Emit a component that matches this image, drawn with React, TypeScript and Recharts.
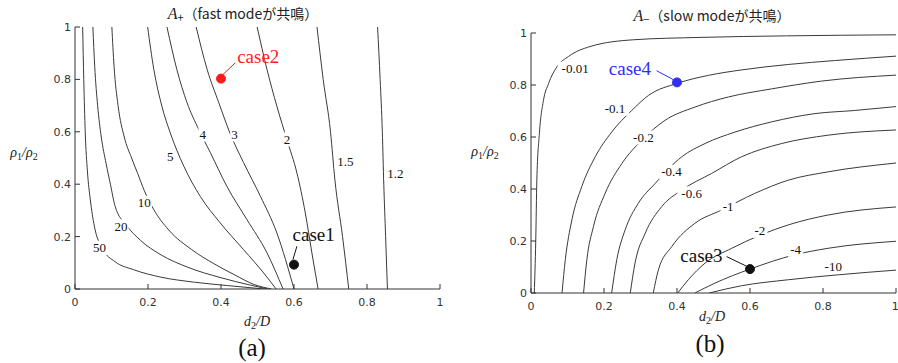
import React from "react";
import {
  ComposedChart,
  Line,
  XAxis,
  YAxis,
  ReferenceDot,
  ReferenceLine,
} from "recharts";

// axis ticks shared by both panels
const ticks = [0, 0.2, 0.4, 0.6, 0.8, 1];

// (a) A+ contours, [d2/D, rho1/rho2]
const a50 = [[0.021, 1], [0.024, 0.8], [0.028, 0.6], [0.034, 0.45], [0.042, 0.34], [0.053, 0.24], [0.075, 0.155], [0.11, 0.104], [0.16, 0.074], [0.236, 0.045], [0.327, 0.026], [0.418, 0.013], [0.518, 0]];
const a20 = [[0.049, 1], [0.054, 0.85], [0.062, 0.7], [0.072, 0.58], [0.085, 0.48], [0.097, 0.4], [0.11, 0.315], [0.14, 0.245], [0.18, 0.185], [0.236, 0.13], [0.309, 0.083], [0.4, 0.043], [0.48, 0.015], [0.528, 0]];
const a10 = [[0.101, 1], [0.107, 0.85], [0.118, 0.7], [0.135, 0.58], [0.155, 0.5], [0.172, 0.44], [0.19, 0.375], [0.215, 0.305], [0.257, 0.225], [0.32, 0.15], [0.38, 0.097], [0.436, 0.055], [0.491, 0.017], [0.538, 0]];
const a5 = [[0.199, 1], [0.216, 0.838], [0.238, 0.698], [0.261, 0.596], [0.298, 0.469], [0.343, 0.354], [0.398, 0.252], [0.462, 0.15], [0.517, 0.061], [0.551, 0]];
const a4 = [[0.252, 1], [0.279, 0.838], [0.307, 0.711], [0.339, 0.609], [0.371, 0.52], [0.416, 0.392], [0.471, 0.265], [0.526, 0.138], [0.57, 0]];
const a3 = [[0.332, 1], [0.362, 0.838], [0.394, 0.711], [0.426, 0.59], [0.462, 0.482], [0.508, 0.354], [0.553, 0.214], [0.6, 0]];
const a2 = [[0.499, 1], [0.526, 0.838], [0.553, 0.698], [0.581, 0.568], [0.608, 0.443], [0.631, 0.29], [0.649, 0.138], [0.666, 0]];
const a15 = [[0.663, 1], [0.68, 0.8], [0.7, 0.6], [0.712, 0.417], [0.733, 0.2], [0.75, 0]];
const a12 = [[0.829, 1], [0.836, 0.8], [0.842, 0.6], [0.846, 0.4], [0.851, 0.2], [0.856, 0]];

const aLabels: [number, number, string][] = [
  [0.067, 0.157, "50"], [0.126, 0.239, "20"], [0.19, 0.329, "10"], [0.261, 0.507, "5"],
  [0.35, 0.59, "4"], [0.437, 0.59, "3"], [0.581, 0.571, "2"], [0.741, 0.485, "1.5"], [0.878, 0.44, "1.2"],
];

// (b) A- contours
const bM001 = [[0.009, 0], [0.013, 0.2], [0.016, 0.434], [0.023, 0.614], [0.034, 0.74], [0.048, 0.805], [0.071, 0.87], [0.103, 0.91], [0.162, 0.948], [0.281, 0.974], [0.463, 0.983], [0.7, 0.989], [1, 0.993]];
const bM01 = [[0.085, 0], [0.094, 0.128], [0.112, 0.281], [0.139, 0.409], [0.176, 0.524], [0.221, 0.619], [0.276, 0.702], [0.322, 0.76], [0.402, 0.807], [0.486, 0.837], [0.577, 0.858], [0.705, 0.879], [0.832, 0.894], [1, 0.911]];
const bM02 = [[0.144, 0], [0.153, 0.128], [0.171, 0.255], [0.203, 0.383], [0.249, 0.498], [0.303, 0.587], [0.367, 0.664], [0.449, 0.715], [0.541, 0.754], [0.659, 0.785], [0.796, 0.815], [1, 0.838]];
const bM04 = [[0.221, 0], [0.235, 0.128], [0.258, 0.243], [0.294, 0.345], [0.34, 0.421], [0.413, 0.524], [0.477, 0.575], [0.559, 0.619], [0.659, 0.658], [0.778, 0.69], [0.887, 0.702], [1, 0.717]];
const bM06 = [[0.272, 0], [0.285, 0.115], [0.313, 0.23], [0.358, 0.332], [0.413, 0.396], [0.495, 0.46], [0.577, 0.524], [0.687, 0.575], [0.814, 0.607], [1, 0.627]];
const bM1 = [[0.335, 0], [0.349, 0.089], [0.386, 0.179], [0.449, 0.268], [0.522, 0.319], [0.613, 0.383], [0.705, 0.434], [0.814, 0.466], [1, 0.5]];
const bM2 = [[0.402, 0], [0.431, 0.051], [0.477, 0.115], [0.55, 0.172], [0.627, 0.222], [0.705, 0.262], [0.814, 0.3], [1, 0.331]];
const bM4 = [[0.449, 0], [0.504, 0.038], [0.6, 0.092], [0.723, 0.147], [0.814, 0.172], [1, 0.199]];
const bM10 = [[0.488, 0], [0.577, 0.028], [0.705, 0.051], [0.842, 0.07], [1, 0.088]];

const bLabels: [number, number, string][] = [
  [0.121, 0.862, "-0.01"], [0.23, 0.709, "-0.1"], [0.308, 0.598, "-0.2"], [0.385, 0.466, "-0.4"],
  [0.44, 0.383, "-0.6"], [0.54, 0.332, "-1"], [0.627, 0.239, "-2"], [0.725, 0.166, "-4"], [0.828, 0.102, "-10"],
];

// marked cases: point, label position, leader line
type Case = { name: string; color: string; pt: number[]; lab: number[]; lead: number[][] };
const aCases: Case[] = [
  { name: "case2", color: "#ff1a1a", pt: [0.4, 0.803], lab: [0.502, 0.886], lead: [[0.405, 0.818], [0.439, 0.863]] },
  { name: "case1", color: "#111", pt: [0.6, 0.093], lab: [0.654, 0.207], lead: [[0.597, 0.112], [0.608, 0.163]] },
];
const bCases: Case[] = [
  { name: "case4", color: "#2f2ff5", pt: [0.4, 0.81], lab: [0.271, 0.862], lead: [[0.344, 0.855], [0.395, 0.817]] },
  { name: "case3", color: "#111", pt: [0.6, 0.092], lab: [0.467, 0.143], lead: [[0.536, 0.14], [0.595, 0.1]] },
];

const toPts = (arr: number[][]) => arr.map(([x, y]) => ({ x, y }));

const INK = "#333";
const tickFont = { fill: INK, fontSize: 11, fontFamily: "DejaVu Sans" };

function ContourLabel(props: any) {
  const { cx, cy, text } = props;
  const w = text.length * 6.6 + 2;
  return (
    <g>
      <rect x={cx - w / 2} y={cy - 7} width={w} height={14} fill="#fff" />
      <text x={cx} y={cy} textAnchor="middle" dominantBaseline="central" fontSize={13} fontFamily="Liberation Serif" fill="#111">
        {text}
      </text>
    </g>
  );
}

function CaseText(props: any) {
  const { cx, cy, text, color } = props;
  return (
    <text x={cx} y={cy} textAnchor="middle" dominantBaseline="central" fontSize={19} fontFamily="Liberation Serif" fill={color}>
      {text}
    </text>
  );
}

type PanelProps = {
  width: number;
  height: number;
  margin: { top: number; right: number; bottom: number; left: number };
  curves: number[][][];
  labels: [number, number, string][];
  cases: Case[];
};

function ContourPanel({ width, height, margin, curves, labels, cases }: PanelProps) {
  return (
    <ComposedChart width={width} height={height} margin={margin}>
      <XAxis xAxisId="b" dataKey="x" type="number" domain={[0, 1]} ticks={ticks} allowDataOverflow
        height={30} tickSize={-5} tickMargin={14} stroke={INK} tick={tickFont} />
      <XAxis xAxisId="t" orientation="top" dataKey="x" type="number" domain={[0, 1]} ticks={ticks} allowDataOverflow
        height={0} tickSize={-5} tick={false} stroke={INK} />
      <YAxis yAxisId="l" type="number" domain={[0, 1]} ticks={ticks} allowDataOverflow
        width={60} tickSize={-5} tickMargin={9} stroke={INK} tick={tickFont} />
      <YAxis yAxisId="r" orientation="right" type="number" domain={[0, 1]} ticks={ticks} allowDataOverflow
        width={0} tickSize={-5} tick={false} stroke="#999" />
      {curves.map((c, i) => (
        <Line key={i} xAxisId="b" yAxisId="l" data={toPts(c)} dataKey="y" type="monotone"
          stroke="#3a3a3a" strokeWidth={1} dot={false} isAnimationActive={false} />
      ))}
      {labels.map(([x, y, t]) => (
        <ReferenceDot key={t} xAxisId="b" yAxisId="l" x={x} y={y} r={0}
          shape={(p: any) => <ContourLabel {...p} text={t} />} />
      ))}
      {cases.map((c) => (
        <ReferenceLine key={c.name + "l"} xAxisId="b" yAxisId="l"
          segment={[{ x: c.lead[0][0], y: c.lead[0][1] }, { x: c.lead[1][0], y: c.lead[1][1] }]}
          stroke={c.color} strokeWidth={1} />
      ))}
      {cases.map((c) => (
        <ReferenceDot key={c.name} xAxisId="b" yAxisId="l" x={c.pt[0]} y={c.pt[1]} r={4.5}
          fill={c.color} stroke={c.color} />
      ))}
      {cases.map((c) => (
        <ReferenceDot key={c.name + "t"} xAxisId="b" yAxisId="l" x={c.lab[0]} y={c.lab[1]} r={0}
          shape={(p: any) => <CaseText {...p} text={c.name} color={c.color} />} />
      ))}
    </ComposedChart>
  );
}

function Txt({ x, y, children, style }: { x: number; y: number; children: React.ReactNode; style?: React.CSSProperties }) {
  return (
    <div style={{ position: "absolute", left: x, top: y, transform: "translate(-50%, -50%)", whiteSpace: "nowrap", lineHeight: 1, ...style }}>
      {children}
    </div>
  );
}

const mathStyle: React.CSSProperties = { fontFamily: "Liberation Serif", fontStyle: "italic", fontSize: 14, color: "#222" };
const subStyle: React.CSSProperties = { fontStyle: "normal", fontSize: 10, verticalAlign: "-3px" };
const titleStyle: React.CSSProperties = { fontFamily: "'Noto Sans CJK JP', 'Noto Sans', sans-serif", fontSize: 14, color: "#222" };
const panelTagStyle: React.CSSProperties = { fontFamily: "Liberation Serif", fontSize: 25, color: "#111" };

function Rho() {
  return (
    <span style={mathStyle}>
      ρ<span style={subStyle}>1</span>/ρ<span style={subStyle}>2</span>
    </span>
  );
}

function D2() {
  return (
    <span style={mathStyle}>
      d<span style={subStyle}>2</span>/D
    </span>
  );
}

export default function App() {
  return (
    <div style={{ position: "absolute", left: 0, top: 0, width: 898, height: 363, background: "#fff", overflow: "hidden" }}>
      <div style={{ position: "absolute", left: 0, top: 0 }}>
        <ContourPanel width={460} height={363} margin={{ top: 27, right: 20, bottom: 44, left: 15 }}
          curves={[a50, a20, a10, a5, a4, a3, a2, a15, a12]} labels={aLabels} cases={aCases} />
      </div>
      <div style={{ position: "absolute", left: 450, top: 0 }}>
        <ContourPanel width={448} height={363} margin={{ top: 33, right: 2, bottom: 40, left: 21 }}
          curves={[bM001, bM01, bM02, bM04, bM06, bM1, bM2, bM4, bM10]} labels={bLabels} cases={bCases} />
      </div>

      <Txt x={243} y={14} style={titleStyle}>
        <span style={{ ...mathStyle, fontSize: 16 }}>A</span>
        <span style={{ fontSize: 11, verticalAlign: "-3px" }}>+</span>
        （fast modeが共鳴）
      </Txt>
      <Txt x={712} y={16} style={titleStyle}>
        <span style={{ ...mathStyle, fontSize: 16 }}>A</span>
        <span style={{ fontSize: 11, verticalAlign: "-3px" }}>−</span>
        （slow modeが共鳴）
      </Txt>

      <Txt x={24} y={153}><Rho /></Txt>
      <Txt x={485} y={152}><Rho /></Txt>
      <Txt x={257} y={322}><D2 /></Txt>
      <Txt x={712} y={317}><D2 /></Txt>

      <Txt x={252} y={347} style={panelTagStyle}>(a)</Txt>
      <Txt x={710} y={343} style={panelTagStyle}>(b)</Txt>
    </div>
  );
}
